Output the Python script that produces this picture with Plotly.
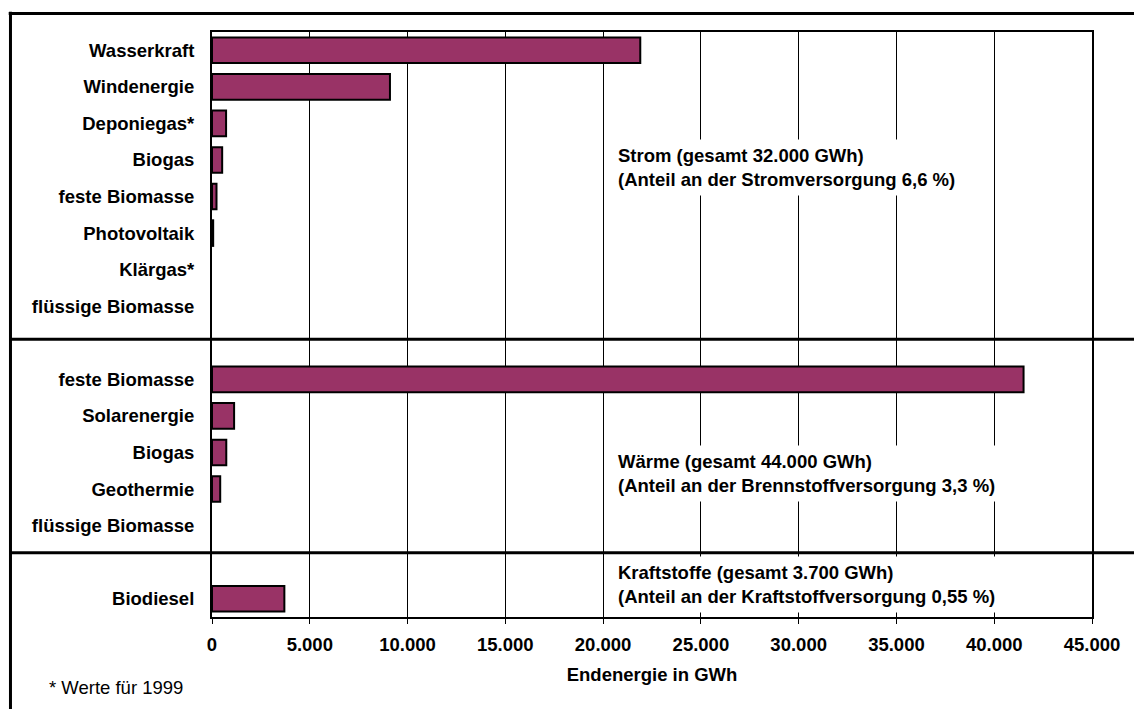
import plotly.graph_objects as go

# Endenergie aus erneuerbaren Energien in GWh
strom_labels = ["Wasserkraft", "Windenergie", "Deponiegas*", "Biogas",
                "feste Biomasse", "Photovoltaik", "Klärgas*", "flüssige Biomasse"]
strom_gwh = [21900, 9100, 720, 520, 230, 60, 0, 0]

waerme_labels = ["feste Biomasse", "Solarenergie", "Biogas", "Geothermie",
                 "flüssige Biomasse"]
waerme_gwh = [41500, 1130, 730, 420, 0]

kraftstoff_labels = ["Biodiesel"]
kraftstoff_gwh = [3700]

x_tickvals = [0, 5000, 10000, 15000, 20000, 25000, 30000, 35000, 40000, 45000]
x_ticktext = ["0", "5.000", "10.000", "15.000", "20.000", "25.000",
              "30.000", "35.000", "40.000", "45.000"]

group_notes = [
    "Strom (gesamt 32.000 GWh)<br>(Anteil an der Stromversorgung 6,6 %)",
    "Wärme (gesamt 44.000 GWh)<br>(Anteil an der Brennstoffversorgung 3,3 %)",
    "Kraftstoffe (gesamt 3.700 GWh)<br>(Anteil an der Kraftstoffversorgung 0,55 %)",
]
footnote = "* Werte für 1999"
x_title = "Endenergie in GWh"

BAR_COLOR = "#993366"
FONT = "Liberation Sans, Arial, sans-serif"
FS = 18.5

groups = [
    (strom_labels, strom_gwh),
    (waerme_labels, waerme_gwh),
    (kraftstoff_labels, kraftstoff_gwh),
]

# rows run top-to-bottom; one empty row separates consecutive groups
fig = go.Figure()
tick_pos, tick_text = [], []
row = 0
for labels, values in groups:
    pos = list(range(row, row + len(labels)))
    fig.add_trace(go.Bar(
        x=values, y=pos, orientation="h", width=0.7,
        marker=dict(color=BAR_COLOR,
                    line=dict(color="black", width=[2 if v > 0 else 0 for v in values])),
        hoverinfo="x+text", hovertext=labels,
    ))
    tick_pos += pos
    tick_text += labels
    row += len(labels) + 1
last_row = tick_pos[-1]

# frame and group dividers (paper coordinates)
FRAME_LEFT, FRAME_RIGHT = -0.229, 1.07
FRAME_TOP, FRAME_BOTTOM = 1.0316, -0.18
DIVIDERS_Y = [0.475, 0.110]
shapes = [
    dict(type="line", xref="paper", yref="paper", x0=FRAME_LEFT - 0.002, x1=FRAME_RIGHT,
         y0=FRAME_TOP, y1=FRAME_TOP, line=dict(color="black", width=3)),
    dict(type="line", xref="paper", yref="paper", x0=FRAME_LEFT, x1=FRAME_LEFT,
         y0=FRAME_BOTTOM, y1=FRAME_TOP + 0.003, line=dict(color="black", width=3)),
]
for yd in DIVIDERS_Y:
    shapes.append(dict(type="line", xref="paper", yref="paper", x0=FRAME_LEFT, x1=FRAME_RIGHT,
                       y0=yd, y1=yd, line=dict(color="black", width=3)))

note_y = [0.768, 0.246, 0.0564]
annotations = []
for text, yy in zip(group_notes, note_y):
    annotations.append(dict(
        text=text, xref="paper", yref="paper", x=0.4545, y=yy,
        xanchor="left", yanchor="middle", align="left", showarrow=False,
        bgcolor="white", borderpad=5,
        font=dict(family=FONT, size=FS, color="black", weight="bold"),
    ))
annotations.append(dict(
    text=footnote, xref="paper", yref="paper", x=-0.187, y=-0.1197,
    xanchor="left", yanchor="middle", showarrow=False,
    font=dict(family=FONT, size=FS, color="black"),
))

fig.update_layout(
    width=1134, height=709,
    margin=dict(l=212, r=42, t=32, b=92),
    paper_bgcolor="white", plot_bgcolor="white",
    showlegend=False,
    shapes=shapes, annotations=annotations,
    xaxis=dict(
        range=[0, 45000], tickvals=x_tickvals, ticktext=x_ticktext,
        showgrid=True, gridcolor="black", gridwidth=1, zeroline=False,
        showline=True, linecolor="black", linewidth=2, mirror=True,
        ticks="outside", ticklen=5, tickwidth=1, tickcolor="black",
        ticklabelstandoff=5,
        tickfont=dict(family=FONT, size=FS, color="black", weight="bold"),
        title=dict(text=x_title, standoff=14,
                   font=dict(family=FONT, size=FS, color="black", weight="bold")),
    ),
    yaxis=dict(
        range=[last_row + 0.5, -0.5], tickvals=tick_pos, ticktext=tick_text,
        showgrid=False, zeroline=False,
        showline=True, linecolor="black", linewidth=2, mirror=True,
        ticks="", ticklabelstandoff=12,
        tickfont=dict(family=FONT, size=FS, color="black", weight="bold"),
    ),
)

fig.write_html("out.html")
